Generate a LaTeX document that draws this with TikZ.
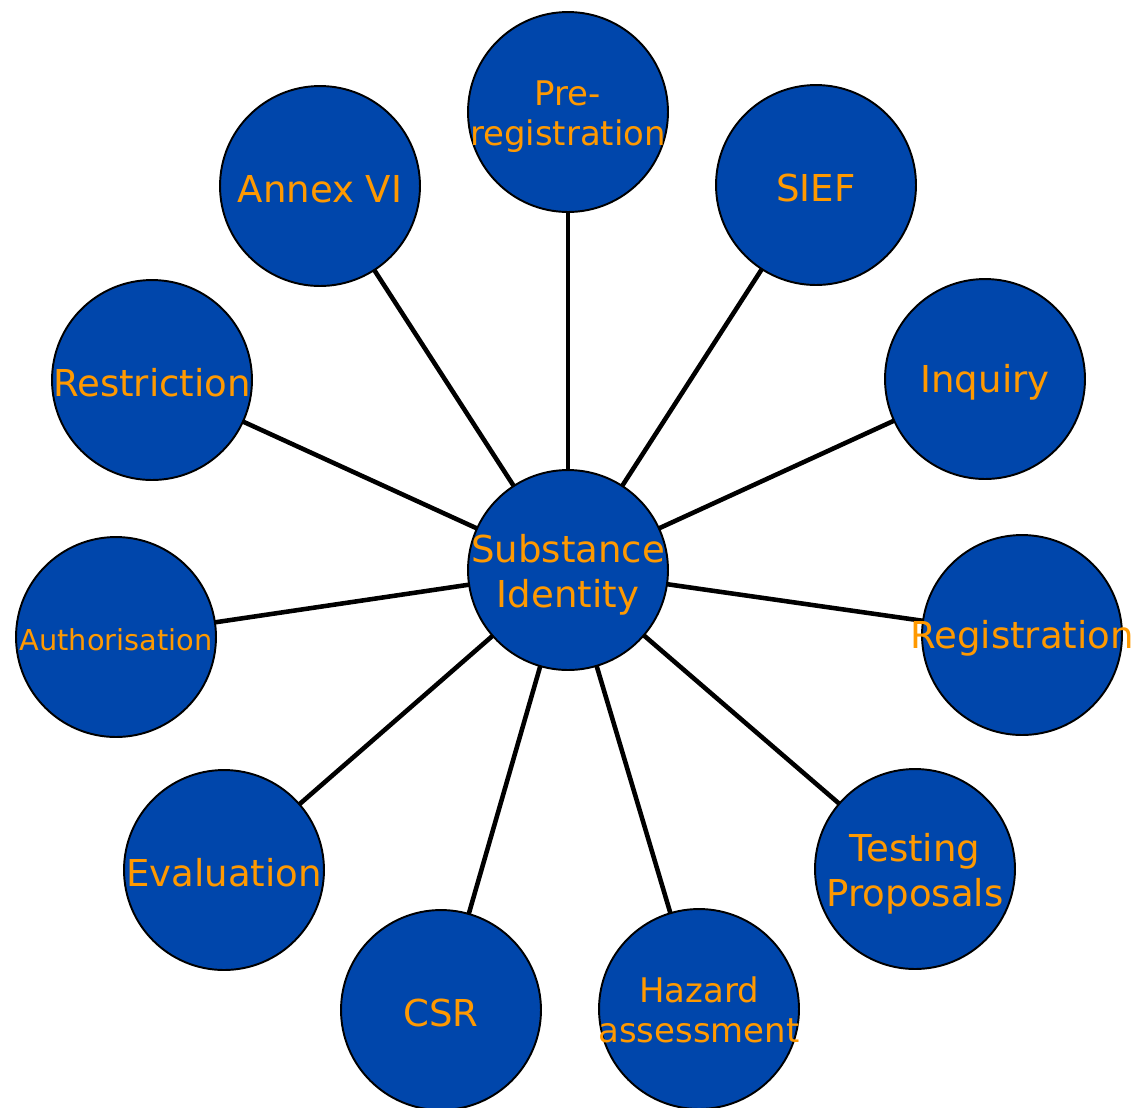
\documentclass[tikz,border=0pt]{standalone}
\usepackage{fontspec}
\setmainfont{DejaVu Sans}
\usetikzlibrary{backgrounds}
\definecolor{bubblefill}{RGB}{0,70,171}
\definecolor{bubbletext}{RGB}{255,153,0}
\newcommand{\zl}[1]{\makebox[0pt][c]{#1}}
\begin{document}
\begin{tikzpicture}[x=0.02cm,y=-0.02cm,
  bubble/.style={circle,draw=black,line width=1.1pt,fill=bubblefill,minimum size=4cm,inner sep=0pt},
  txt/.style={text=bubbletext,inner sep=0pt,align=center,font=\fontsize{21.1}{25.5}\selectfont,yshift=-0.06cm},
  midtxt/.style={txt,font=\fontsize{19.3}{22.9}\selectfont},
  smalltxt/.style={txt,font=\fontsize{16.4}{19.5}\selectfont},
  twotxt/.style={yshift=-0.04cm},
  spoke/.style={line width=2.6pt,draw=black}]
\useasboundingbox (0,0) rectangle (1135,1107);
\node[bubble] (center) at (568,570) {};
\node[bubble] (prereg) at (568,112) {};
\node[bubble] (sief) at (816,185) {};
\node[bubble] (inquiry) at (985,379) {};
\node[bubble] (registration) at (1022,635) {};
\node[bubble] (testing) at (915,869) {};
\node[bubble] (hazard) at (699,1009) {};
\node[bubble] (csr) at (441,1010) {};
\node[bubble] (evaluation) at (224,870) {};
\node[bubble] (authorisation) at (116,637) {};
\node[bubble] (restriction) at (152,380) {};
\node[bubble] (annex) at (320,186) {};
\node[txt,twotxt,font=\fontsize{21.1}{25.7}\selectfont] (center-t) at (center) {\zl{Substance}\\\zl{Identity}};
\node[midtxt,twotxt] (prereg-t) at (prereg) {\zl{Pre-}\\\zl{registration}};
\node[txt] (sief-t) at (sief) {SIEF};
\node[txt] (inquiry-t) at (inquiry) {Inquiry};
\node[txt] (registration-t) at (registration) {\zl{Registration}};
\node[txt,twotxt] (testing-t) at (testing) {\zl{Testing}\\\zl{Proposals}};
\node[midtxt,yshift=0.04cm] (hazard-t) at (hazard) {\zl{Hazard}\\\zl{assessment}};
\node[txt] (csr-t) at (csr) {CSR};
\node[txt] (evaluation-t) at (evaluation) {\zl{Evaluation}};
\node[smalltxt] (authorisation-t) at (authorisation) {\zl{Authorisation}};
\node[txt] (restriction-t) at (restriction) {\zl{Restriction}};
\node[txt] (annex-t) at (annex) {Annex VI};
\begin{scope}[on background layer]
\foreach \n in {prereg,sief,inquiry,registration,testing,hazard,csr,evaluation,authorisation,restriction,annex}
  \draw[spoke] (center.center) -- (\n.center);
\end{scope}
\end{tikzpicture}
\end{document}
